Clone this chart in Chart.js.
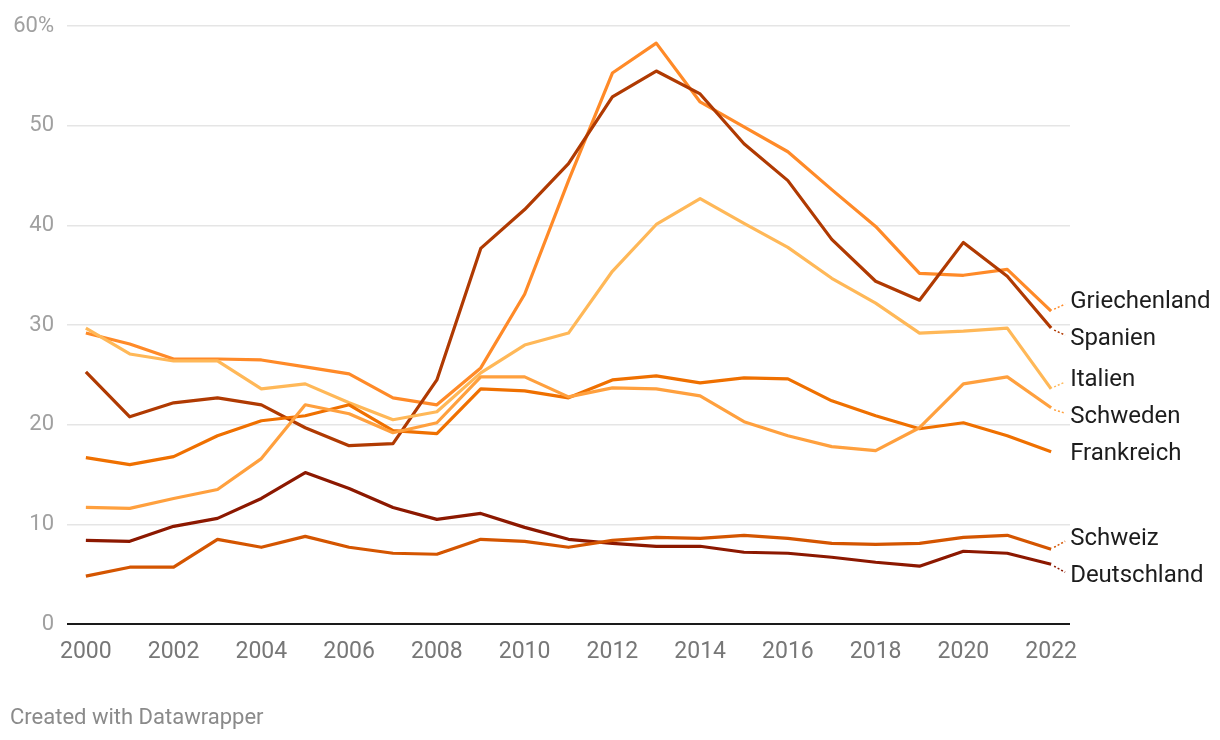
<!DOCTYPE html>
<html>
<head>
<meta charset="utf-8">
<script src="https://cdn.jsdelivr.net/npm/chart.js@4"></script>
<style>
  html, body { margin: 0; background: #fff; }
  #wrap { position: relative; width: 1220px; height: 740px; }
  .credit { position: absolute; left: 10px; top: 704px; font: 22px Roboto, sans-serif; line-height: 26px; color: #8a8a8a; }
</style>
</head>
<body>
<div id="wrap">
  <canvas id="chart" width="1220" height="740"></canvas>
  <div class="credit">Created with Datawrapper</div>
</div>
<script>
// DATA (share in %)
const years = [2000, 2001, 2002, 2003, 2004, 2005, 2006, 2007, 2008, 2009, 2010, 2011,
  2012, 2013, 2014, 2015, 2016, 2017, 2018, 2019, 2020, 2021, 2022];
const xTicks = [2000, 2002, 2004, 2006, 2008, 2010, 2012, 2014, 2016, 2018, 2020, 2022];
const yTicks = [0, 10, 20, 30, 40, 50, 60];

const griechenland = [29.2, 28.1, 26.6, 26.6, 26.5, 25.8, 25.1, 22.7, 22.0, 25.7, 33.1, 44.5, 55.3, 58.3, 52.4, 49.9, 47.4, 43.6, 39.9, 35.2, 35.0, 35.6, 31.4];
const spanien = [25.3, 20.8, 22.2, 22.7, 22.0, 19.7, 17.9, 18.1, 24.5, 37.7, 41.6, 46.2, 52.9, 55.5, 53.2, 48.2, 44.5, 38.6, 34.4, 32.5, 38.3, 34.9, 29.7];
const italien = [29.7, 27.1, 26.4, 26.4, 23.6, 24.1, 22.2, 20.5, 21.3, 25.2, 28.0, 29.2, 35.4, 40.1, 42.7, 40.2, 37.8, 34.7, 32.2, 29.2, 29.4, 29.7, 23.6];
const schweden = [11.7, 11.6, 12.6, 13.5, 16.6, 22.0, 21.1, 19.2, 20.2, 24.8, 24.8, 22.8, 23.7, 23.6, 22.9, 20.3, 18.9, 17.8, 17.4, 19.7, 24.1, 24.8, 21.7];
const frankreich = [16.7, 16.0, 16.8, 18.9, 20.4, 20.9, 22.0, 19.4, 19.1, 23.6, 23.4, 22.7, 24.5, 24.9, 24.2, 24.7, 24.6, 22.4, 20.9, 19.6, 20.2, 18.9, 17.3];
const schweiz = [4.8, 5.7, 5.7, 8.5, 7.7, 8.8, 7.7, 7.1, 7.0, 8.5, 8.3, 7.7, 8.4, 8.7, 8.6, 8.9, 8.6, 8.1, 8.0, 8.1, 8.7, 8.9, 7.5];
const deutschland = [8.4, 8.3, 9.8, 10.6, 12.6, 15.2, 13.6, 11.7, 10.5, 11.1, 9.7, 8.5, 8.1, 7.8, 7.8, 7.2, 7.1, 6.7, 6.2, 5.8, 7.3, 7.1, 6.0];

const series = [
  { label: 'Schweiz', values: schweiz, color: '#d45500' },
  { label: 'Deutschland', values: deutschland, color: '#8c1800' },
  { label: 'Schweden', values: schweden, color: '#ffa03e' },
  { label: 'Frankreich', values: frankreich, color: '#ef7000' },
  { label: 'Italien', values: italien, color: '#ffb858' },
  { label: 'Spanien', values: spanien, color: '#b03a02' },
  { label: 'Griechenland', values: griechenland, color: '#ff8a28' }
];

// labels at the line ends, pushed apart when they overlap
const endLabels = {
  id: 'endLabels',
  afterDatasetsDraw(chart) {
    const ctx = chart.ctx;
    const items = chart.data.datasets.map((ds, i) => {
      const pts = chart.getDatasetMeta(i).data;
      const pt = pts[pts.length - 1];
      return { text: ds.label, color: ds.borderColor, x: pt.x, y0: pt.y, y: pt.y };
    }).sort((a, b) => a.y0 - b.y0);
    const gap = 37;
    for (let k = 0; k < 200; k++) {
      for (let i = 1; i < items.length; i++) {
        const d = items[i].y - items[i - 1].y;
        if (d < gap) {
          const s = (gap - d) / 2;
          items[i - 1].y -= s;
          items[i].y += s;
        }
      }
    }
    ctx.save();
    items.forEach(it => {
      if (Math.abs(it.y - it.y0) > 2) {
        ctx.strokeStyle = it.color;
        ctx.lineWidth = 1.5;
        ctx.setLineDash([2, 2]);
        ctx.beginPath();
        ctx.moveTo(it.x + 3, it.y0 - Math.sign(it.y0 - it.y) * 2);
        ctx.lineTo(it.x + 14, it.y + Math.sign(it.y0 - it.y) * 3);
        ctx.stroke();
      }
      ctx.setLineDash([]);
      ctx.fillStyle = '#1d1d1d';
      ctx.font = '24px Roboto';
      ctx.textBaseline = 'middle';
      ctx.fillText(it.text, it.x + 19, it.y + 1);
    });
    ctx.restore();
  }
};

const xPad = 0.43;

new Chart(document.getElementById('chart'), {
  type: 'line',
  data: {
    datasets: series.map(s => ({
      label: s.label,
      data: s.values.map((v, i) => ({ x: years[i], y: v })),
      borderColor: s.color,
      backgroundColor: s.color,
      borderWidth: 3.2,
      pointRadius: 0,
      tension: 0,
      borderJoinStyle: 'round'
    }))
  },
  options: {
    responsive: false,
    animation: false,
    layout: { padding: { top: 24, right: 150, left: 0, bottom: 0 } },
    plugins: { legend: { display: false }, tooltip: { enabled: false } },
    scales: {
      x: {
        type: 'linear',
        min: years[0] - xPad,
        max: years[years.length - 1] + xPad,
        afterBuildTicks: scale => { scale.ticks = xTicks.map(v => ({ value: v })); },
        afterFit: scale => { scale.height = 116; },
        grid: { display: false },
        border: { display: false },
        ticks: {
          padding: 6,
          color: '#777',
          font: { family: 'Roboto', size: 23 },
          maxRotation: 0,
          autoSkip: false,
          callback: v => String(v)
        }
      },
      y: {
        min: yTicks[0],
        max: yTicks[yTicks.length - 1],
        afterBuildTicks: scale => { scale.ticks = yTicks.map(v => ({ value: v })); },
        afterFit: scale => { scale.width = 67; },
        border: { display: false },
        grid: {
          drawTicks: false,
          color: c => c.tick && c.tick.value === 0 ? '#1a1a1a' : '#e5e5e5',
          lineWidth: c => c.tick && c.tick.value === 0 ? 2 : 1.5
        },
        ticks: {
          padding: 13,
          color: '#a0a0a0',
          font: { family: 'Roboto', size: 22 },
          callback: v => v === 60 ? v + '%' : String(v)
        }
      }
    }
  },
  plugins: [endLabels]
});
</script>
</body>
</html>
